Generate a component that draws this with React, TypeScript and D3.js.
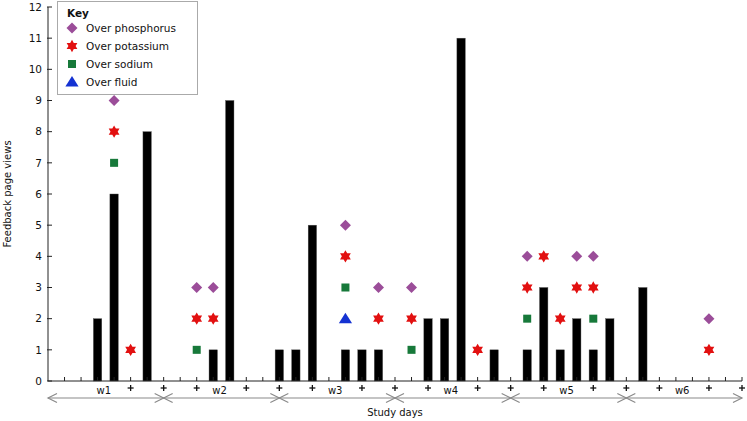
import React from "react";
import * as d3 from "d3";

const dayCount = 42;
const yTicks = [0, 1, 2, 3, 4, 5, 6, 7, 8, 9, 10, 11, 12];
const barDays = [3, 4, 6, 10, 11, 14, 15, 16, 18, 19, 20, 23, 24, 25, 27, 29, 30, 31, 32, 33, 34, 36];
const barValues = [2, 6, 8, 1, 9, 1, 1, 5, 1, 1, 1, 2, 2, 11, 1, 1, 3, 1, 2, 1, 2, 3];
const phosphorus: [number, number][] = [[4, 9], [9, 3], [10, 3], [18, 5], [20, 3], [22, 3], [29, 4], [32, 4], [33, 4], [40, 2]];
const potassium: [number, number][] = [[4, 8], [5, 1], [9, 2], [10, 2], [18, 4], [20, 2], [22, 2], [26, 1], [29, 3], [30, 4], [31, 2], [32, 3], [33, 3], [40, 1]];
const sodium: [number, number][] = [[4, 7], [9, 1], [18, 3], [22, 1], [29, 2], [33, 2]];
const fluid: [number, number][] = [[18, 2]];
const plusDays = [5, 7, 9, 12, 14, 16, 19, 21, 23, 26, 28, 30, 33, 35, 37, 40, 42];
const weeks = ["w1", "w2", "w3", "w4", "w5", "w6"];
const weekBounds = [0, 7, 14, 21, 28, 35, 42];

const COLORS = {
  phos: "#9b4d99",
  pot: "#e21010",
  sod: "#17793a",
  fluid: "#1432d2",
};

function starPath(R: number) {
  const r = R / Math.sqrt(3);
  const pts: string[] = [];
  for (let i = 0; i < 12; i++) {
    const a = (Math.PI / 6) * i - Math.PI / 2;
    const rad = i % 2 === 0 ? R : r;
    pts.push(`${(rad * Math.cos(a)).toFixed(2)},${(rad * Math.sin(a)).toFixed(2)}`);
  }
  return "M" + pts.join("L") + "Z";
}
const diamondPath = (s: number) => `M0,${-s}L${s},0L0,${s}L${-s},0Z`;
const trianglePath = (s: number) => `M0,${-s}L${s * 1.1},${s * 0.75}L${-s * 1.1},${s * 0.75}Z`;

function Marker({ kind, x, y }: { kind: string; x: number; y: number }) {
  const t = `translate(${x},${y})`;
  if (kind === "phos") return <path transform={t} d={diamondPath(5.5)} fill={COLORS.phos} />;
  if (kind === "pot") return <path transform={t} d={starPath(6.2)} fill={COLORS.pot} />;
  if (kind === "sod") return <rect x={x - 4} y={y - 4} width={8} height={8} fill={COLORS.sod} />;
  return <path transform={t} d={trianglePath(6)} fill={COLORS.fluid} />;
}

export default function App() {
  const W = 747, H = 421;
  const x = d3.scaleLinear().domain([0, dayCount]).range([48, 742]);
  const y = d3.scaleLinear().domain([0, 12]).range([381, 7]);
  const days = d3.range(1, dayCount + 1);
  const font = "'DejaVu Sans', Verdana, sans-serif";
  const arrowY = 398;
  const grey = "#8a8a8a";
  const series: [string, [number, number][]][] = [
    ["phos", phosphorus], ["pot", potassium], ["sod", sodium], ["fluid", fluid],
  ];
  const legendItems = [
    ["phos", "Over phosphorus"],
    ["pot", "Over potassium"],
    ["sod", "Over sodium"],
    ["fluid", "Over fluid"],
  ];
  const chevron = (bx: number, dir: number) =>
    `M${bx - dir * 9},${arrowY - 4.5}L${bx},${arrowY}L${bx - dir * 9},${arrowY + 4.5}`;

  return (
    <svg width={W} height={H} style={{ position: "absolute", left: 0, top: 0, background: "#fff" }} fontFamily={font}>
      {/* bars */}
      {barDays.map((d, i) => (
        <rect key={"b" + i} x={x(d) - 4.2} y={y(barValues[i])} width={8.4} height={y(0) - y(barValues[i])} fill="#000" stroke="#555" strokeWidth={0.4} />
      ))}
      {/* markers */}
      {series.map(([k, pts]) => pts.map(([d, v], i) => <Marker key={k + i} kind={k} x={x(d)} y={y(v)} />))}
      {/* y axis */}
      <line x1={x(0)} x2={x(0)} y1={y(0)} y2={y(12)} stroke="#222" strokeWidth={1} />
      {yTicks.map((t) => (
        <g key={"yt" + t}>
          <line x1={x(0) - 1} x2={x(0) + 4} y1={y(t)} y2={y(t)} stroke="#222" />
          <text x={42} y={y(t)} dy="0.35em" textAnchor="end" fontSize={10.5} fill="#111">{t}</text>
        </g>
      ))}
      {/* x axis */}
      <line x1={x(0)} x2={x(dayCount)} y1={y(0)} y2={y(0)} stroke="#222" />
      {days.map((d) => (
        <line key={"xt" + d} x1={x(d)} x2={x(d)} y1={y(0)} y2={y(0) - 4} stroke="#222" />
      ))}
      {plusDays.map((d) => (
        <g key={"p" + d} stroke="#111" strokeWidth={1.3}>
          <line x1={x(d) - 3} x2={x(d) + 3} y1={388} y2={388} />
          <line x1={x(d)} x2={x(d)} y1={385} y2={391} />
        </g>
      ))}
      {weeks.map((w, i) => (
        <text key={w} x={(x(weekBounds[i]) + x(weekBounds[i + 1])) / 2 - 2} y={394} textAnchor="middle" fontSize={10} fill="#111">{w}</text>
      ))}
      {/* week arrows */}
      <line x1={x(0)} x2={x(dayCount)} y1={arrowY} y2={arrowY} stroke={grey} strokeWidth={1.2} />
      {weeks.map((w, i) => (
        <g key={"a" + w} fill="none" stroke={grey} strokeWidth={1.2}>
          <path d={chevron(x(weekBounds[i]), -1)} />
          <path d={chevron(x(weekBounds[i + 1]), 1)} />
        </g>
      ))}
      {/* axis titles */}
      <text x={395} y={416} textAnchor="middle" fontSize={10} fill="#111">Study days</text>
      <text transform={`translate(11,${(y(0) + y(12)) / 2}) rotate(-90)`} textAnchor="middle" fontSize={10} fill="#111">Feedback page views</text>
      {/* legend */}
      <rect x={57.5} y={1.5} width={140} height={93} fill="#fff" stroke="#aaa" strokeWidth={1} />
      <text x={67} y={17} fontSize={10.5} fontWeight="bold" fill="#111">Key</text>
      {legendItems.map(([k, label], i) => (
        <g key={"l" + k}>
          <Marker kind={k} x={72} y={28 + i * 18} />
          <text x={86} y={28 + i * 18} dy="0.35em" fontSize={10.5} fill="#111">{label}</text>
        </g>
      ))}
    </svg>
  );
}
